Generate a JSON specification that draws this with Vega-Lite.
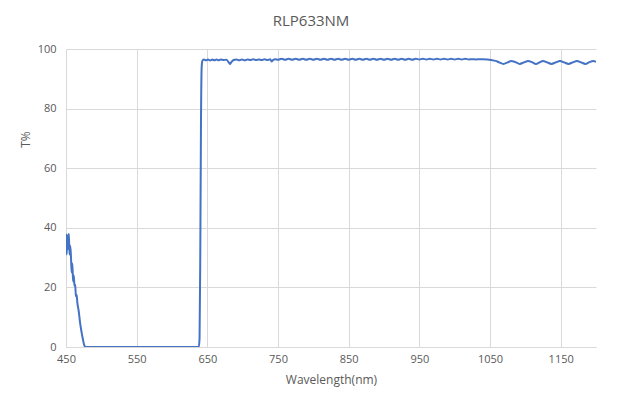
{
  "$schema": "https://vega.github.io/schema/vega-lite/v6.json",
  "autosize": "none",
  "width": 530,
  "height": 298,
  "padding": {"left": 66, "top": 49, "right": 25, "bottom": 59},
  "background": "white",
  "title": {"text": "RLP633NM", "fontSize": 15, "font": "Open Sans", "fontWeight": "normal", "color": "#595959", "offset": 14, "dx": -20},
  "data": {"values": [
    {"w": 450, "t": 38}, {"w": 451, "t": 31}, {"w": 452, "t": 37.5}, {"w": 453, "t": 33}, {"w": 454, "t": 38},
    {"w": 455, "t": 31}, {"w": 456, "t": 34}, {"w": 457, "t": 30.5}, {"w": 458, "t": 25}, {"w": 459, "t": 28},
    {"w": 460, "t": 22}, {"w": 461, "t": 24}, {"w": 462, "t": 20.5}, {"w": 463, "t": 21}, {"w": 464, "t": 17},
    {"w": 465, "t": 17.5}, {"w": 466, "t": 15}, {"w": 468, "t": 12}, {"w": 470, "t": 8}, {"w": 472, "t": 5},
    {"w": 474, "t": 2.5}, {"w": 476, "t": 0.5}, {"w": 478, "t": 0}, {"w": 500, "t": 0}, {"w": 550, "t": 0},
    {"w": 600, "t": 0}, {"w": 638, "t": 0}, {"w": 639, "t": 3}, {"w": 640, "t": 30}, {"w": 641, "t": 75},
    {"w": 642, "t": 94}, {"w": 643, "t": 96}, {"w": 645, "t": 96.5}, {"w": 648, "t": 96.2}, {"w": 651, "t": 96.5},
    {"w": 654, "t": 96.1}, {"w": 657, "t": 96.5}, {"w": 660, "t": 96.2}, {"w": 663, "t": 96.5}, {"w": 666, "t": 96.2},
    {"w": 669, "t": 96.5}, {"w": 673, "t": 96.3}, {"w": 677, "t": 96.4}, {"w": 680, "t": 95.6}, {"w": 682, "t": 95.0},
    {"w": 684, "t": 95.6}, {"w": 687, "t": 96.3}, {"w": 691, "t": 96.5}, {"w": 695, "t": 96.2}, {"w": 699, "t": 96.5},
    {"w": 703, "t": 96.2}, {"w": 707, "t": 96.5}, {"w": 711, "t": 96.3}, {"w": 715, "t": 96.6}, {"w": 719, "t": 96.3},
    {"w": 723, "t": 96.5}, {"w": 727, "t": 96.3}, {"w": 731, "t": 96.6}, {"w": 735, "t": 96.3}, {"w": 739, "t": 96.6},
    {"w": 741, "t": 95.8}, {"w": 743, "t": 96.3}, {"w": 746, "t": 96.6}, {"w": 750, "t": 96.4}, {"w": 755, "t": 96.7},
    {"w": 760, "t": 96.4}, {"w": 765, "t": 96.7}, {"w": 770, "t": 96.4}, {"w": 775, "t": 96.7}, {"w": 780, "t": 96.4},
    {"w": 785, "t": 96.7}, {"w": 790, "t": 96.4}, {"w": 795, "t": 96.7}, {"w": 800, "t": 96.4}, {"w": 805, "t": 96.7},
    {"w": 810, "t": 96.4}, {"w": 815, "t": 96.7}, {"w": 820, "t": 96.4}, {"w": 825, "t": 96.7}, {"w": 830, "t": 96.4},
    {"w": 835, "t": 96.7}, {"w": 840, "t": 96.4}, {"w": 845, "t": 96.7}, {"w": 850, "t": 96.4}, {"w": 855, "t": 96.7},
    {"w": 860, "t": 96.4}, {"w": 865, "t": 96.7}, {"w": 870, "t": 96.4}, {"w": 875, "t": 96.7}, {"w": 880, "t": 96.4},
    {"w": 885, "t": 96.7}, {"w": 890, "t": 96.4}, {"w": 895, "t": 96.7}, {"w": 900, "t": 96.4}, {"w": 905, "t": 96.7},
    {"w": 910, "t": 96.4}, {"w": 915, "t": 96.7}, {"w": 920, "t": 96.4}, {"w": 925, "t": 96.7}, {"w": 930, "t": 96.4},
    {"w": 935, "t": 96.7}, {"w": 940, "t": 96.4}, {"w": 945, "t": 96.7}, {"w": 950, "t": 96.5}, {"w": 955, "t": 96.7},
    {"w": 960, "t": 96.5}, {"w": 965, "t": 96.7}, {"w": 970, "t": 96.5}, {"w": 975, "t": 96.7}, {"w": 980, "t": 96.5},
    {"w": 985, "t": 96.7}, {"w": 990, "t": 96.5}, {"w": 995, "t": 96.7}, {"w": 1000, "t": 96.5}, {"w": 1005, "t": 96.7},
    {"w": 1010, "t": 96.5}, {"w": 1015, "t": 96.7}, {"w": 1020, "t": 96.5}, {"w": 1025, "t": 96.6}, {"w": 1030, "t": 96.5},
    {"w": 1035, "t": 96.6}, {"w": 1040, "t": 96.6}, {"w": 1046, "t": 96.5}, {"w": 1052, "t": 96.3}, {"w": 1058, "t": 96.0},
    {"w": 1063, "t": 95.5}, {"w": 1069, "t": 95.0}, {"w": 1075, "t": 95.5}, {"w": 1080, "t": 96.0}, {"w": 1086, "t": 95.6},
    {"w": 1092, "t": 95.0}, {"w": 1098, "t": 95.5}, {"w": 1104, "t": 96.0}, {"w": 1110, "t": 95.5}, {"w": 1115, "t": 95.0},
    {"w": 1120, "t": 95.5}, {"w": 1125, "t": 96.0}, {"w": 1131, "t": 95.5}, {"w": 1137, "t": 95.0}, {"w": 1143, "t": 95.5},
    {"w": 1149, "t": 96.0}, {"w": 1155, "t": 95.5}, {"w": 1161, "t": 95.0}, {"w": 1167, "t": 95.5}, {"w": 1173, "t": 96.0},
    {"w": 1179, "t": 95.5}, {"w": 1185, "t": 95.0}, {"w": 1190, "t": 95.5}, {"w": 1196, "t": 96.0}, {"w": 1200, "t": 95.7}
  ]},
  "mark": {"type": "line", "color": "#4472C4", "strokeWidth": 2, "interpolate": "monotone", "clip": true},
  "encoding": {
    "x": {
      "field": "w", "type": "quantitative",
      "scale": {"domain": [450, 1200], "nice": false, "zero": false},
      "axis": {
        "title": "Wavelength(nm)", "values": [450, 550, 650, 750, 850, 950, 1050, 1150], "format": "d",
        "grid": true, "gridColor": "#d9d9d9", "gridWidth": 1,
        "domain": true, "domainColor": "#d9d9d9", "domainWidth": 1,
        "ticks": false, "labelFlush": false, "labelPadding": 6, "labelFont": "Open Sans", "labelFontSize": 11, "labelColor": "#595959",
        "titleFont": "Open Sans", "titleFontSize": 12, "titleFontWeight": "normal", "titleColor": "#595959", "titlePadding": 10
      }
    },
    "y": {
      "field": "t", "type": "quantitative",
      "scale": {"domain": [0, 100], "nice": false},
      "axis": {
        "title": "T%", "values": [0, 20, 40, 60, 80, 100],
        "grid": true, "gridColor": "#d9d9d9", "gridWidth": 1,
        "domain": false, "ticks": false, "labelPadding": 10,
        "labelFont": "Open Sans", "labelFontSize": 11, "labelColor": "#595959",
        "titleFont": "Open Sans", "titleFontSize": 12, "titleFontWeight": "normal", "titleColor": "#595959",
        "titleY": 90, "titleX": -34, "titleAngle": -90, "titleBaseline": "bottom", "titleAlign": "center"
      }
    }
  },
  "config": {"view": {"stroke": null}}
}
